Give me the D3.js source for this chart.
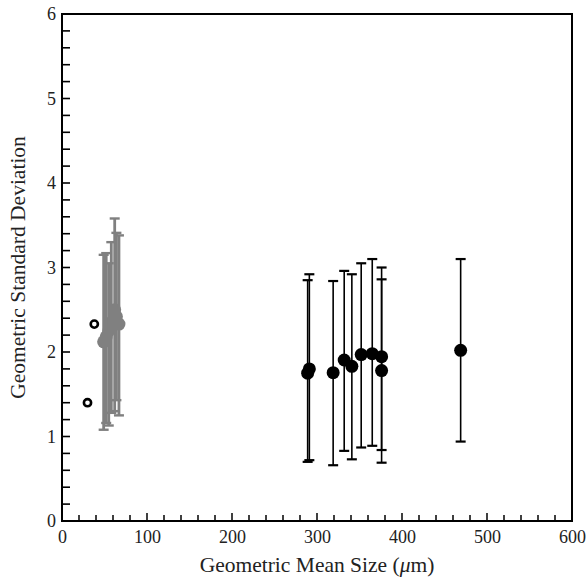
<!DOCTYPE html>
<html><head><meta charset="utf-8">
<script src="https://cdn.jsdelivr.net/npm/d3@7"></script>
<style>body{margin:0;background:#fff}svg{display:block}</style>
</head><body>
<script>
// Black series: x, y, lower, upper
const blackX  = [289, 291, 319, 332, 341, 352, 365, 376, 376, 469];
const blackY  = [1.75, 1.80, 1.755, 1.905, 1.83, 1.97, 1.98, 1.945, 1.78, 2.02];
const blackLo = [0.70, 0.72, 0.66, 0.83, 0.73, 0.87, 0.89, 0.84, 0.69, 0.94];
const blackHi = [2.85, 2.92, 2.84, 2.96, 2.92, 3.05, 3.10, 3.00, 2.86, 3.10];
// Grey series
const greyX  = [49, 52, 55, 58, 62, 64, 67];
const greyY  = [2.12, 2.18, 2.25, 2.35, 2.50, 2.42, 2.33];
const greyLo = [1.08, 1.16, 1.13, 1.28, 1.30, 1.43, 1.25];
const greyHi = [3.15, 3.17, 3.05, 3.30, 3.58, 3.41, 3.38];
// Open markers
const openX = [30, 38];
const openY = [1.40, 2.33];
const xTicks = [0, 100, 200, 300, 400, 500, 600];
const yTicks = [0, 1, 2, 3, 4, 5, 6];

const W = 588, H = 579;
const m = {l: 62, r: 16, t: 14, b: 58};
const svg = d3.select("body").append("svg").attr("width", W).attr("height", H);
const x = d3.scaleLinear().domain([0, 600]).range([m.l, W - m.r]);
const y = d3.scaleLinear().domain([0, 6]).range([H - m.b, m.t]);

// frame
svg.append("rect").attr("x", x(0)).attr("y", y(6)).attr("width", x(600) - x(0)).attr("height", y(0) - y(6))
  .attr("fill", "none").attr("stroke", "#000").attr("stroke-width", 2);

// bottom axis
const xa = svg.append("g").attr("transform", `translate(0,${y(0)})`)
  .call(d3.axisBottom(x).tickValues(xTicks).tickSize(0).tickPadding(9).tickFormat(d3.format("d")));
xa.select(".domain").remove();
xa.selectAll("text").attr("font-family", "Liberation Serif").attr("font-size", 18).attr("fill", "#222");
const xMinor = d3.range(20, 600, 20);
svg.append("g").selectAll("line").data(xMinor).join("line")
  .attr("x1", d => x(d)).attr("x2", d => x(d))
  .attr("y1", y(0)).attr("y2", d => y(0) - (d % 100 === 0 ? 8 : 6))
  .attr("stroke", "#000").attr("stroke-width", 1.5);

// left axis
const ya = svg.append("g").attr("transform", `translate(${x(0)},0)`)
  .call(d3.axisLeft(y).tickValues(yTicks).tickSize(0).tickPadding(6).tickFormat(d3.format("d")));
ya.select(".domain").remove();
ya.selectAll("text").attr("font-family", "Liberation Serif").attr("font-size", 18).attr("fill", "#222");
const yMinor = d3.range(1, 30).map(i => i * 0.2);
svg.append("g").selectAll("line").data(yMinor).join("line")
  .attr("x1", x(0)).attr("x2", x(0) + 8)
  .attr("y1", d => y(d)).attr("y2", d => y(d))
  .attr("stroke", "#000").attr("stroke-width", 1.6);

// titles
svg.append("text").attr("x", 317).attr("y", 572).attr("text-anchor", "middle")
  .attr("font-family", "Liberation Serif").attr("font-size", 21.5).attr("fill", "#222")
  .html('Geometric Mean Size (<tspan font-style="italic">μ</tspan>m)');
svg.append("text").attr("transform", `translate(25,${(y(0) + y(6)) / 2}) rotate(-90)`).attr("text-anchor", "middle")
  .attr("font-family", "Liberation Serif").attr("font-size", 21.5).attr("fill", "#222")
  .text("Geometric Standard Deviation");

function errorBars(xs, ys, lo, hi, color, sw, capW, capSw, r) {
  const g = svg.append("g");
  const idx = d3.range(xs.length);
  g.selectAll("line.v").data(idx).join("line").attr("class", "v")
    .attr("x1", i => x(xs[i])).attr("x2", i => x(xs[i]))
    .attr("y1", i => y(lo[i])).attr("y2", i => y(hi[i]))
    .attr("stroke", color).attr("stroke-width", sw);
  ["lo", "hi"].forEach(k => {
    const arr = k === "lo" ? lo : hi;
    g.selectAll("line." + k).data(idx).join("line").attr("class", k)
      .attr("x1", i => x(xs[i]) - capW / 2).attr("x2", i => x(xs[i]) + capW / 2)
      .attr("y1", i => y(arr[i])).attr("y2", i => y(arr[i]))
      .attr("stroke", color).attr("stroke-width", capSw);
  });
  g.selectAll("circle").data(idx).join("circle")
    .attr("cx", i => x(xs[i])).attr("cy", i => y(ys[i])).attr("r", r)
    .attr("fill", color);
}

errorBars(greyX, greyY, greyLo, greyHi, "#808080", 2.8, 10, 2.4, 6.5);
errorBars(blackX, blackY, blackLo, blackHi, "#000", 1.6, 10, 2.2, 6.5);

// open markers
svg.append("g").selectAll("circle").data(d3.range(openX.length)).join("circle")
  .attr("cx", i => x(openX[i])).attr("cy", i => y(openY[i])).attr("r", 3.6)
  .attr("fill", "#fff").attr("stroke", "#000").attr("stroke-width", 2.6);
</script>
</body></html>
